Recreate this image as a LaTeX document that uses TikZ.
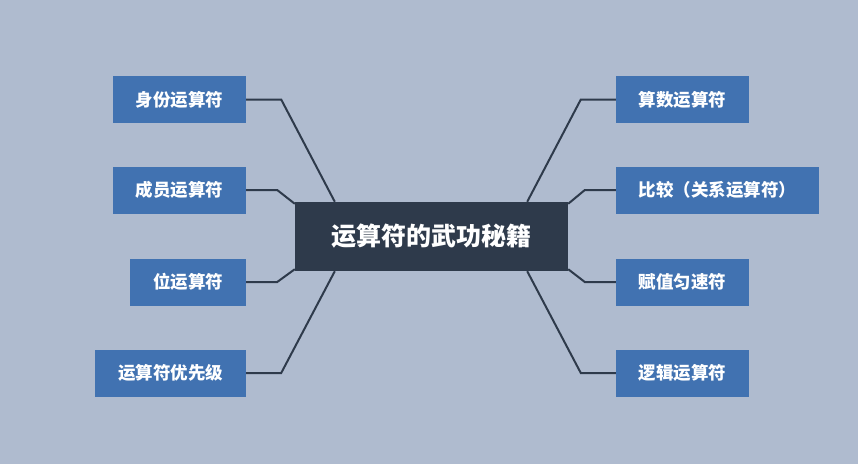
\documentclass[tikz,border=0pt]{standalone}
\usepackage{fontspec}
\setmainfont{Noto Sans CJK SC}
\begin{document}
\begin{tikzpicture}[x=1pt,y=-1pt,
  leaf/.style={fill=leafblue, draw=none, text=white, font=\fontsize{17.5}{20}\selectfont\bfseries, minimum height=47pt, inner sep=0pt},
  hub/.style={fill=hubdark, draw=none, text=white, font=\fontsize{25}{29}\selectfont\bfseries, minimum width=273pt, minimum height=69pt, inner sep=0pt},
  conn/.style={draw=hubdark, line width=2pt, line join=miter}]
\definecolor{bg}{HTML}{AFBBCF}
\definecolor{leafblue}{HTML}{4172B1}
\definecolor{hubdark}{HTML}{2E3A4B}
\fill[bg] (0,0) rectangle (858,464);
\useasboundingbox (0,0) rectangle (858,464);
\node[hub] (c) at (431.5,236.5) {运算符的武功秘籍};
\node[leaf, minimum width=133pt] (l1) at (179.5,99.5) {身份运算符};
\node[leaf, minimum width=133pt] (l2) at (179.5,190) {成员运算符};
\node[leaf, minimum width=116pt] (l3) at (188,282) {位运算符};
\node[leaf, minimum width=151pt] (l4) at (170.5,373) {运算符优先级};
\node[leaf, minimum width=133pt] (r1) at (682.5,99.5) {算数运算符};
\node[leaf, minimum width=203pt] (r2) at (717.5,190) {比较（关系运算符）};
\node[leaf, minimum width=133pt] (r3) at (682.5,282) {赋值匀速符};
\node[leaf, minimum width=133pt] (r4) at (682.5,373) {逻辑运算符};
\draw[conn] (l1.east) -- ++(35,0) -- ([xshift=40pt]c.north west);
\draw[conn] (l2.east) -- ++(31,0) -- ([yshift=-2pt]c.north west);
\draw[conn] (l3.east) -- ++(31,0) -- ([yshift=2pt]c.south west);
\draw[conn] (l4.east) -- ++(35,0) -- ([xshift=40pt]c.south west);
\draw[conn] (r1.west) -- ++(-35,0) -- ([xshift=-41pt]c.north east);
\draw[conn] (r2.west) -- ++(-31,0) -- ([yshift=-2pt]c.north east);
\draw[conn] (r3.west) -- ++(-31,0) -- ([yshift=2pt]c.south east);
\draw[conn] (r4.west) -- ++(-35,0) -- ([xshift=-41pt]c.south east);
\end{tikzpicture}
\end{document}
